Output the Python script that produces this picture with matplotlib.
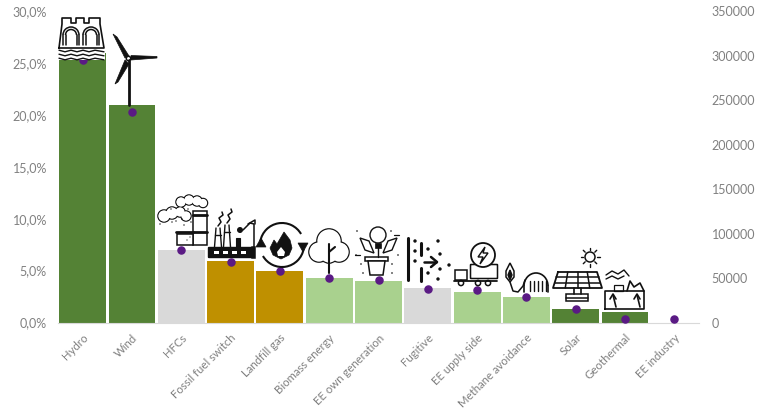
import numpy as np
import matplotlib
matplotlib.use("Agg")
import matplotlib.pyplot as plt
from matplotlib.patches import Circle, Rectangle, Polygon, Arc, FancyBboxPatch

categories = ['Hydro', 'Wind', 'HFCs', 'Fossil fuel switch', 'Landfill gas', 'Biomass energy',
              'EE own generation', 'Fugitive', 'EE upply side', 'Methane avoidance', 'Solar',
              'Geothermal', 'EE industry']
shares = [26.0, 20.9, 6.95, 5.97, 4.95, 4.32, 3.95, 3.36, 2.98, 2.5, 1.33, 0.98, 0.0]
volumes = [295500, 236500, 81000, 68500, 57500, 49500, 48000, 37700, 36600, 29000, 15500, 3600, 3600]
groups = ['dg', 'dg', 'gr', 'au', 'au', 'lg', 'lg', 'gr', 'lg', 'lg', 'dg', 'dg', 'dg']
palette = {'dg': '#548235', 'lg': '#A9D18E', 'au': '#BF9000', 'gr': '#D9D9D9'}
left_ticks = [0, 5, 10, 15, 20, 25, 30]
right_ticks = [0, 50000, 100000, 150000, 200000, 250000, 300000, 350000]

plt.rcParams['font.family'] = ['Lato', 'DejaVu Sans']
W, H = 763, 412
grey = '#808080'

fig = plt.figure(figsize=(W / 100, H / 100), dpi=100)
ax = fig.add_axes([58 / W, 1 - 322.5 / H, 641 / W, 311.5 / H])
x = np.arange(len(categories))
ax.bar(x, shares, width=0.95, color=[palette[g] for g in groups])
ax.set_xlim(-0.5, len(categories) - 0.5)
ax.set_ylim(0, 30)
ax.set_yticks(left_ticks)
ax.set_yticklabels([f"{t:.1f}%".replace('.', ',') for t in left_ticks], color=grey, fontsize=9)
ax.set_xticks(x)
ax.set_xticklabels(categories, rotation=45, ha='right', rotation_mode='anchor', color=grey, fontsize=8.2)
ax.tick_params(axis='both', length=0)
ax.tick_params(axis='y', pad=8)
ax.tick_params(axis='x', pad=7)
for s in ['top', 'left', 'right']:
    ax.spines[s].set_visible(False)
ax.spines['bottom'].set_color('#D9D9D9')

ax2 = ax.twinx()
ax2.scatter(x, volumes, s=26, color='#5A1A84', zorder=5, clip_on=False)
ax2.set_ylim(0, 350000)
ax2.set_yticks(right_ticks)
ax2.set_yticklabels([str(t) for t in right_ticks], color=grey, fontsize=9)
ax2.tick_params(axis='y', length=0, pad=9)
for s in ax2.spines.values():
    s.set_visible(False)

# icons, drawn in pixel coordinates on a see-through layer
ic = fig.add_axes([0, 0, 1, 1], zorder=10)
ic.set_xlim(0, W)
ic.set_ylim(H, 0)
ic.axis('off')
ic.patch.set_alpha(0)
K = '#111111'


def line(xs, ys, lw=1.1):
    ic.plot(xs, ys, color=K, lw=lw, solid_capstyle='round', solid_joinstyle='round')


def dots(pts, r=1.0):
    for a, b in pts:
        ic.add_patch(Circle((a, b), r, fc=K, ec='none'))


def rect(a, b, w, h, fc='white', lw=1.1):
    ic.add_patch(Rectangle((a, b), w, h, fc=fc, ec=K, lw=lw))


def blob(circles, lw=1.1):
    # outline of a group of circles, used for clouds and tree tops
    for a, b, r in circles:
        ic.add_patch(Circle((a, b), r, fc='white', ec=K, lw=lw))
    for a, b, r in circles:
        ic.add_patch(Circle((a, b), r - 0.4, fc='white', ec='none'))


# hydro
ic.add_patch(Rectangle((59, 16), 46, 44, fc='white', ec='none'))
line([59, 62, 62, 71, 71, 76, 76, 84, 84, 89, 89, 100, 100, 104, 59],
     [48, 24, 18, 18, 23, 23, 18, 18, 23, 23, 18, 18, 24, 48, 48], 1.2)
for cx in (71, 91):
    for r in (8, 5.5):
        ic.add_patch(Arc((cx, 35), r * 2, r * 2, theta1=180, theta2=360, ec=K, lw=1.1))
        line([cx - r, cx - r], [35, 45])
        line([cx + r, cx + r], [35, 45])
for yy in (51, 55, 59):
    xs = [59, 65, 71, 77, 83, 89, 95, 104]
    line(xs, [yy + (0.8 if i % 2 else -0.8) for i in range(len(xs))], 1.0)

# wind
line([128.5, 128.5], [60, 105], 2)
ic.add_patch(Polygon([(113, 34), (117, 37), (129, 56), (125, 58)], fc=K, ec=K, lw=0.5))
ic.add_patch(Polygon([(131, 55.5), (157, 56.5), (157, 58), (131, 60)], fc=K, ec=K, lw=0.5))
ic.add_patch(Polygon([(125, 60), (129, 64), (118, 82), (115, 84)], fc=K, ec=K, lw=0.5))
ic.add_patch(Circle((128.5, 58.5), 2.2, fc='white', ec=K, lw=1.1))

# HFCs
blob([(181, 202, 5), (189, 200, 5), (197, 201, 5), (203, 203, 4.5), (164, 216, 6), (172, 213, 6), (180, 212, 5),
      (186, 216, 5)])
dots([(160, 224), (171, 209), (172, 222), (176, 221), (182, 219), (188, 209), (191, 222), (184, 225)], 0.7)
rect(193, 211, 14, 34)
line([193, 207], [215, 215], 2)
line([193, 207], [232, 232], 2)
rect(177, 234, 16, 11)
line([176, 193], [232, 232], 2)
dots([(187, 240), (190, 237)], 0.6)

# fossil fuel switch
ic.add_patch(FancyBboxPatch((209, 248), 42, 9, boxstyle='round,pad=0.5', fc=K, ec=K))
for a in (214, 223, 232, 241):
    ic.add_patch(Rectangle((a, 251), 5, 3, fc='white', ec='none'))
rect(251.5, 247, 3.5, 11, K)
for cx, top in ((218, 228), (227, 225)):
    line([cx - 3.5, cx - 2], [247, top], 1)
    line([cx + 3.5, cx + 2], [247, top], 1)
    line([cx - 3, cx + 3], [top + 7, top + 7], 1)
    line([cx, cx + 3, cx + 1, cx + 5, cx + 4], [top - 2, top - 6, top - 10, top - 13, top - 16], 1.1)
rect(236, 238, 4, 9, K, 0.8)
dots([(240, 230)], 3)
line([243, 250, 254, 254], [230, 223, 224, 247], 1.1)
line([248, 255, 255], [224, 220, 224], 1.1)

# landfill gas
ic.add_patch(Arc((282, 245), 44, 44, theta1=190, theta2=330, ec=K, lw=1.5))
ic.add_patch(Arc((282, 245), 44, 44, theta1=10, theta2=150, ec=K, lw=1.5))
ic.add_patch(Polygon([(256, 247), (266, 247), (261, 238)], fc=K, ec=K, lw=0.5))
ic.add_patch(Polygon([(298, 243), (308, 243), (303, 252)], fc=K, ec=K, lw=0.5))
ic.add_patch(Polygon([(284, 232), (290, 240), (292, 248), (289, 255), (281, 259), (273, 255), (270, 248),
                      (274, 240), (277, 244)], fc=K, ec=K, lw=0.5))
ic.add_patch(Polygon([(281, 247), (285, 252), (284, 256), (278, 256), (277, 252)], fc='white', ec='none'))

# biomass energy
blob([(329, 241, 12), (319, 252, 10), (339, 252, 10), (329, 254, 9)], 1.2)
line([329, 329], [273, 244], 1.5)
line([329, 335], [252, 247], 1.5)

# EE own generation
ic.add_patch(Circle((378, 235), 8, fc='white', ec=K, lw=1))
rect(375, 243, 6, 5, K, 0.5)
rect(365, 257, 23, 4)
ic.add_patch(Polygon([(368, 261), (385, 261), (383, 275), (370, 275)], fc='white', ec=K, lw=1.1))
line([378, 378], [248, 257], 1)
ic.add_patch(Polygon([(360, 238), (369, 241), (374, 253), (365, 250)], fc='white', ec=K, lw=1))
ic.add_patch(Polygon([(397, 238), (388, 241), (383, 253), (392, 250)], fc='white', ec=K, lw=1))
dots([(357, 231), (391, 231), (361, 264), (392, 264), (363, 273), (392, 273), (356, 255), (398, 255)], 0.8)
line([355, 360], [255, 255], 0.9)
line([394, 399], [235, 235], 0.9)

# fugitive
line([408, 408], [238, 280], 2.2)
line([421, 421], [243, 255], 2.2)
line([421, 421], [268, 281], 2.2)
line([424, 436], [262, 262], 1.8)
line([431, 437, 431], [257, 262, 267], 1.8)
dots([(415, 241), (438, 241), (415, 251), (428, 249), (440, 254), (415, 261), (449, 265), (440, 269), (428, 273),
      (438, 279)], 1.7)

# EE supply side
ic.add_patch(FancyBboxPatch((471, 265), 26, 13, boxstyle='round,pad=0.5', fc='white', ec=K, lw=1.1))
ic.add_patch(Circle((483, 255), 12, fc='white', ec=K, lw=1.3))
ic.add_patch(Polygon([(485, 247), (478, 257), (483, 257), (480, 264), (488, 253), (483, 253)], fc='white', ec=K, lw=1))
rect(455, 270, 12, 10)
line([454, 497], [281, 281], 1.3)
for cx in (461, 478, 488):
    ic.add_patch(Circle((cx, 283), 2.6, fc='white', ec=K, lw=1.1))

# methane avoidance
ic.add_patch(Polygon([(510, 263), (514, 271), (514, 277), (510, 282), (506, 277), (506, 271)], fc='white', ec=K, lw=1.1))
ic.add_patch(Polygon([(510, 270), (512, 275), (510, 280), (508, 275)], fc=K, ec=K))
line([510, 513, 518, 523, 525], [282, 291, 292, 286, 280], 1.1)
ic.add_patch(Arc((536, 286), 24, 26, theta1=180, theta2=360, ec=K, lw=1.2))
line([524, 524], [286, 292], 1.2)
line([548, 548], [286, 292], 1.2)
for a in (530, 534, 538, 542, 546):
    line([a, a], [281, 291], 1)

# solar
line([558, 597, 602, 553, 558], [272, 272, 288, 288, 272], 1.3)
for f in (0.25, 0.5, 0.75):
    line([558 + 39 * f, 553 + 49 * f], [272, 288], 1.1)
for f in (1 / 3, 2 / 3):
    line([558 - 5 * f, 597 + 5 * f], [272 + 16 * f, 272 + 16 * f], 1.1)
line([574, 574], [288, 294], 1.2)
line([581, 581], [288, 294], 1.2)
rect(566, 294, 22, 7)
line([566, 588], [297.5, 297.5], 1.1)
ic.add_patch(Circle((590, 257), 5, fc='white', ec=K, lw=1.1))
for a in np.radians(np.arange(0, 360, 45)):
    line([590 + 6.8 * np.cos(a), 590 + 9.5 * np.cos(a)], [257 + 6.8 * np.sin(a), 257 + 9.5 * np.sin(a)], 1)

# geothermal
line([605, 605, 644, 644, 605], [309, 291, 291, 309, 309], 1.2)
line([627, 630, 634, 640, 644], [291, 281, 287, 283, 291], 1.2)
line([606, 612, 618, 624, 629], [275, 271, 274, 270, 276], 1)
line([606, 612, 618, 624], [279, 276, 279, 276], 1)
rect(614, 285, 9, 6, 'white', 0.9)
for cx in (613, 637):
    line([cx + 3, cx], [307, 295], 1.2)
    line([cx - 3, cx, cx + 3], [299, 294, 299], 1.2)

fig.savefig("out.png", dpi=100, facecolor='white')
